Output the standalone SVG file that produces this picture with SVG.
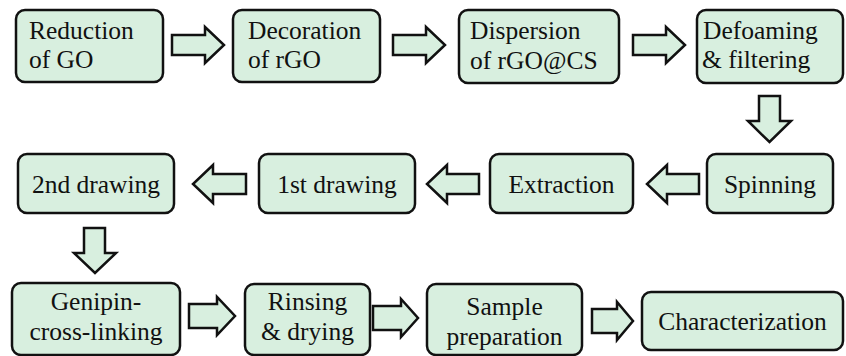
<svg xmlns="http://www.w3.org/2000/svg" width="846" height="356" viewBox="0 0 846 356">
<style>
.box{fill:#d8efdf;stroke:#111;stroke-width:2.5}
.arr{fill:#d8efdf;stroke:#111;stroke-width:2.5;stroke-linejoin:miter}
.c{text-anchor:middle}
</style>
<rect width="846" height="356" fill="#fff"/>
<g id="connectors">
<polygon class="arr" points="172,35 205,35 205,27 224,45 205,63 205,55 172,55"/>
<polygon class="arr" points="393,35 426,35 426,27 445,45 426,63 426,55 393,55"/>
<polygon class="arr" points="633,35 666,35 666,27 685,45 666,63 666,55 633,55"/>
<polygon class="arr" points="759,96 780,96 780,121 791,121 769.5,142 748,121 759,121"/>
<polygon class="arr" points="699,174 667,174 667,165 647,184 667,203 667,194 699,194"/>
<polygon class="arr" points="479,174 447,174 447,165 427,184 447,203 447,194 479,194"/>
<polygon class="arr" points="246,174 213,174 213,165 193,184 213,203 213,194 246,194"/>
<polygon class="arr" points="84,228 105,228 105,253 116,253 95,273 74,253 84,253"/>
<polygon class="arr" points="189,304 217,304 217,297 235,316 217,335 217,328 189,328"/>
<polygon class="arr" points="373,306 401,306 401,299 418,318 401,337 401,330 373,330"/>
<polygon class="arr" points="592,309 617,309 617,302 633,321 617,340 617,333 592,333"/>
</g>
<g font-family="'Liberation Serif', 'Times New Roman', serif" font-size="25.5" fill="#111">
<g id="n1"><rect class="box" x="16" y="10" width="147" height="72" rx="9"/><text x="29" y="39">Reduction</text><text x="29" y="68">of GO</text></g>
<g id="n2"><rect class="box" x="233" y="10" width="147" height="72" rx="9"/><text x="248" y="39">Decoration</text><text x="248" y="68">of rGO</text></g>
<g id="n3"><rect class="box" x="459" y="10" width="160" height="73" rx="9"/><text x="470" y="39">Dispersion</text><text x="470" y="69">of rGO@CS</text></g>
<g id="n4"><rect class="box" x="697" y="10" width="146" height="73" rx="9"/><text x="703" y="39">Defoaming</text><text x="702" y="68">&amp; filtering</text></g>
<g id="n5"><rect class="box" x="707" y="154" width="126" height="59" rx="9"/><text class="c" x="770" y="193">Spinning</text></g>
<g id="n6"><rect class="box" x="490" y="154" width="143" height="59" rx="9"/><text class="c" x="561.5" y="193">Extraction</text></g>
<g id="n7"><rect class="box" x="259" y="154" width="156" height="59" rx="9"/><text class="c" x="337" y="193">1st drawing</text></g>
<g id="n8"><rect class="box" x="18" y="154" width="156" height="59" rx="9"/><text class="c" x="96" y="193">2nd drawing</text></g>
<g id="n9"><rect class="box" x="12" y="283" width="168" height="72" rx="9"/><text class="c" x="96" y="310">Genipin-</text><text class="c" x="96" y="340">cross-linking</text></g>
<g id="n10"><rect class="box" x="245" y="284" width="125" height="71" rx="9"/><text class="c" x="307.5" y="310">Rinsing</text><text class="c" x="307.5" y="340">&amp; drying</text></g>
<g id="n11"><rect class="box" x="427" y="284" width="155" height="71" rx="9"/><text class="c" x="504.5" y="315">Sample</text><text class="c" x="504.5" y="345">preparation</text></g>
<g id="n12"><rect class="box" x="642" y="292" width="201" height="58" rx="9"/><text class="c" x="742.5" y="330">Characterization</text></g>
</g>
</svg>
